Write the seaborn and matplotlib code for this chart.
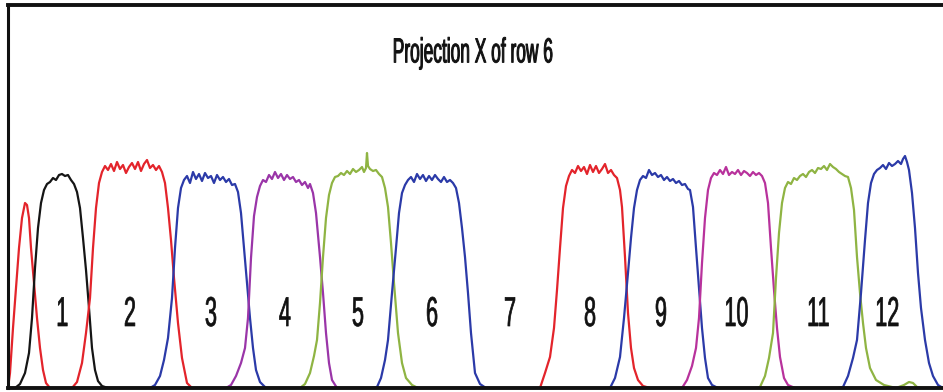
import matplotlib
matplotlib.use("Agg")
import matplotlib.pyplot as plt
import seaborn as sns
import pandas as pd
from matplotlib.patheffects import AbstractPathEffect
from matplotlib.transforms import Affine2D

# ---- data (channel position, intensity) ----
red0_x = [8, 10, 13, 16, 19, 22, 25, 27, 29, 31, 34, 37, 40, 43, 46, 50]
red0_y = [0, 15, 60, 100, 140, 170, 185, 183, 170, 140, 105, 70, 40, 18, 5, 0]

black1_x = [15, 20, 25, 29, 32, 35, 38, 41, 44, 47, 50, 53, 56, 59, 62, 65, 68, 71, 74, 77, 80, 83, 86, 89, 92, 95, 98, 102, 108]
black1_y = [0, 4, 15, 35, 70, 120, 160, 185, 198, 204, 206, 210, 208, 213, 214, 212, 213, 208, 204, 196, 180, 150, 118, 80, 40, 18, 7, 2, 0]

red2_x = [72, 77, 82, 86, 90, 93, 96, 99, 102, 105, 108, 111, 114, 117, 120, 123, 126, 129, 132, 135, 138, 141, 144, 147, 150, 153, 156, 159, 162, 165, 168, 171, 174, 178, 182, 187, 192]
red2_y = [0, 6, 25, 55, 90, 140, 180, 205, 216, 222, 218, 224, 217, 226, 219, 223, 215, 221, 225, 219, 226, 217, 224, 228, 220, 223, 218, 222, 216, 205, 180, 148, 110, 65, 30, 5, 0]

blue3_x = [150, 155, 160, 164, 168, 172, 175, 178, 181, 184, 187, 190, 193, 196, 199, 202, 205, 208, 211, 214, 217, 220, 223, 226, 229, 232, 235, 238, 241, 244, 247, 250, 253, 256, 260, 266]
blue3_y = [0, 3, 12, 28, 50, 90, 140, 180, 200, 208, 212, 205, 216, 209, 214, 207, 215, 210, 212, 205, 213, 208, 211, 206, 209, 203, 204, 196, 175, 140, 105, 70, 40, 18, 6, 0]

purple4_x = [226, 231, 236, 241, 245, 248, 251, 254, 257, 260, 263, 266, 269, 272, 275, 278, 281, 284, 287, 290, 293, 296, 299, 302, 305, 308, 310, 313, 316, 320, 323, 326, 329, 332, 337]
purple4_y = [0, 3, 12, 25, 40, 70, 130, 172, 191, 202, 208, 206, 213, 209, 216, 210, 214, 208, 213, 209, 211, 206, 208, 203, 206, 200, 204, 195, 175, 131, 95, 55, 25, 8, 0]

green5_x = [300, 305, 310, 314, 317, 320, 323, 326, 329, 332, 335, 338, 341, 344, 347, 350, 353, 356, 359, 362, 364, 366, 367, 368, 370, 373, 376, 379, 382, 385, 388, 391, 394, 398, 402, 406, 412, 418]
green5_y = [0, 4, 15, 32, 48, 85, 131, 170, 193, 205, 211, 212, 215, 213, 217, 214, 219, 216, 218, 221, 216, 220, 235, 222, 219, 217, 218, 214, 211, 200, 181, 145, 105, 55, 25, 10, 3, 0]

blue6_x = [372, 377, 381, 385, 388, 392, 396, 399, 402, 405, 408, 411, 414, 417, 420, 423, 426, 429, 432, 435, 438, 441, 444, 447, 450, 453, 456, 459, 462, 465, 468, 471, 475, 480, 486, 492]
blue6_y = [0, 1, 10, 28, 48, 95, 140, 175, 195, 203, 208, 211, 206, 214, 209, 213, 207, 212, 208, 213, 209, 206, 211, 206, 208, 205, 200, 185, 160, 131, 95, 55, 15, 4, 0, 0]

red8_x = [535, 540, 545, 550, 554, 557, 560, 563, 566, 569, 572, 575, 578, 581, 584, 587, 590, 593, 596, 599, 602, 605, 608, 611, 614, 617, 620, 622, 625, 628, 631, 634, 638, 643, 650]
red8_y = [0, 0, 15, 31, 60, 98, 140, 180, 202, 212, 218, 215, 222, 217, 221, 214, 223, 216, 222, 215, 219, 224, 215, 218, 213, 210, 198, 181, 131, 75, 40, 20, 8, 2, 0]

blue9_x = [605, 610, 615, 620, 624, 628, 631, 634, 637, 640, 643, 646, 649, 652, 655, 658, 661, 664, 667, 670, 673, 676, 679, 682, 685, 688, 690, 693, 696, 699, 702, 705, 708, 712, 718]
blue9_y = [0, 0, 10, 31, 70, 115, 150, 180, 198, 208, 212, 210, 218, 213, 215, 211, 213, 208, 211, 207, 209, 205, 207, 203, 204, 199, 198, 181, 140, 100, 60, 30, 10, 3, 0]

mag10_x = [682, 687, 692, 696, 699, 702, 705, 708, 711, 714, 717, 720, 723, 726, 729, 732, 735, 738, 741, 744, 747, 750, 753, 756, 759, 762, 765, 768, 771, 774, 777, 780, 784, 788, 795]
mag10_y = [0, 8, 22, 40, 70, 125, 170, 198, 210, 215, 213, 218, 214, 221, 213, 216, 214, 218, 213, 217, 215, 212, 216, 213, 215, 212, 205, 185, 140, 98, 60, 31, 10, 3, 0]

green11_x = [755, 760, 765, 769, 773, 776, 779, 782, 785, 788, 791, 794, 797, 800, 803, 806, 809, 812, 815, 818, 821, 824, 827, 830, 833, 836, 839, 842, 845, 848, 851, 854, 857, 860, 863, 866, 870, 876, 884, 896, 904, 909, 913, 917, 922, 928]
green11_y = [0, 1, 12, 30, 55, 110, 155, 185, 200, 206, 204, 210, 208, 212, 214, 211, 216, 218, 215, 220, 219, 222, 218, 224, 221, 219, 216, 214, 212, 211, 200, 178, 131, 95, 65, 40, 20, 8, 3, 0, 3, 6, 5, 1, 0, 0]

blue12_x = [838, 843, 848, 853, 857, 861, 865, 868, 871, 874, 877, 880, 883, 886, 889, 892, 895, 898, 901, 903, 905, 907, 909, 912, 915, 918, 921, 925, 929, 933, 938, 943]
blue12_y = [0, 1, 12, 30, 48, 95, 148, 185, 205, 214, 218, 220, 223, 219, 225, 222, 224, 227, 224, 229, 232, 226, 218, 195, 160, 115, 80, 48, 25, 12, 3, 0]

curves = [
    ("r0", red0_x, red0_y), ("b1", black1_x, black1_y), ("r2", red2_x, red2_y),
    ("b3", blue3_x, blue3_y), ("p4", purple4_x, purple4_y), ("g5", green5_x, green5_y),
    ("b6", blue6_x, blue6_y), ("r8", red8_x, red8_y), ("b9", blue9_x, blue9_y),
    ("m10", mag10_x, mag10_y), ("g11", green11_x, green11_y), ("b12", blue12_x, blue12_y),
]

label_text = ["1", "2", "3", "4", "5", "6", "7", "8", "9", "10", "11", "12"]
label_pos = [62, 130, 211, 285, 358, 432, 510, 590, 661, 736, 818, 887]

title = "Projection X of row 6"

RED, BLACK, BLUE, PURPLE, GREEN, MAGENTA = "#e3242b", "#151515", "#2b3aa8", "#9a35a8", "#8fb443", "#b8329c"
palette = {"r0": RED, "b1": BLACK, "r2": RED, "b3": BLUE, "p4": PURPLE, "g5": GREEN,
           "b6": BLUE, "r8": RED, "b9": BLUE, "m10": MAGENTA, "g11": GREEN, "b12": BLUE}

rows = []
for name, xs, ys in curves:
    for i, (x, y) in enumerate(zip(xs, ys)):
        rows.append({"peak": name, "x": x, "y": y, "order": i})
df = pd.DataFrame(rows)


class Condense(AbstractPathEffect):
    """Squeeze text horizontally about its own centre (text stays a Text artist)."""

    def __init__(self, sx, stroke=0.0):
        super().__init__()
        self.sx = sx
        self.stroke = stroke

    def draw_path(self, renderer, gc, tpath, affine, rgbFace=None):
        ext = tpath.get_extents(affine)
        cx = 0.5 * (ext.x0 + ext.x1)
        t = affine + Affine2D().translate(-cx, 0).scale(self.sx, 1.0).translate(cx, 0)
        gc0 = renderer.new_gc()
        gc0.copy_properties(gc)
        if self.stroke > 0 and rgbFace is not None:
            gc0.set_foreground(rgbFace)
            gc0.set_linewidth(self.stroke)
        renderer.draw_path(gc0, tpath, t, rgbFace)
        gc0.restore()


sns.set_style("white")
plt.rcParams["font.family"] = ["Liberation Sans", "DejaVu Sans"]

fig = plt.figure(figsize=(9.43, 3.92), dpi=100)
ax = fig.add_axes([8 / 943, 4 / 392, 935 / 943, 383 / 392])

sns.lineplot(data=df, x="x", y="y", hue="peak", palette=palette, sort=False,
             estimator=None, units="peak", legend=False, linewidth=1.6, ax=ax)

ax.set_xlim(8, 943)
ax.set_ylim(0, 383)
ax.set_xticks([])
ax.set_yticks([])
ax.set_xlabel("")
ax.set_ylabel("")
for s in ["left", "top", "bottom"]:
    ax.spines[s].set_visible(True)
    ax.spines[s].set_color("#111111")
ax.spines["left"].set_linewidth(2.2)
ax.spines["top"].set_linewidth(2.8)
ax.spines["bottom"].set_linewidth(2.8)
ax.spines["right"].set_visible(False)

ax.text(0.497, 0.875, title, transform=ax.transAxes, ha="center", va="center",
        fontsize=25, color="#111111", path_effects=[Condense(0.5, stroke=0.7)])

for t, xp in zip(label_text, label_pos):
    ax.text(xp, 73, t, ha="center", va="center", fontsize=30, color="#111111",
            path_effects=[Condense(0.52, stroke=0.5)])

fig.savefig("out.png", dpi=100)
